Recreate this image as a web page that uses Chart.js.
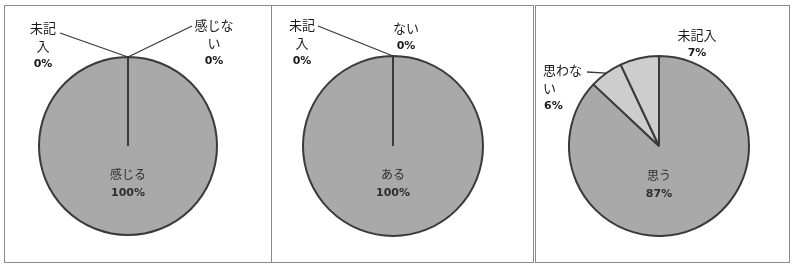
<!DOCTYPE html>
<html>
<head>
<meta charset="utf-8">
<script src="https://cdn.jsdelivr.net/npm/chart.js@4/dist/chart.umd.min.js"></script>
<style>
  body { margin: 0; background: #fff; }
  #wrap { position: relative; width: 792px; height: 267px; overflow: hidden; }
  .box { position: absolute; border: 1px solid #8a8a8a; box-sizing: border-box; }
  .box canvas { position: absolute; left: -1px; top: -1px; }
</style>
</head>
<body>
<div id="wrap"></div>
<script>
// data
const feelCategories = ['感じる', '感じない', '未記入'];
const feelValues = [100, 0, 0];

const haveCategories = ['ある', 'ない', '未記入'];
const haveValues = [100, 0, 0];

const thinkCategories = ['思う', '思わない', '未記入'];
const thinkValues = [87, 6, 7];

const darkGray = '#a9a9a9';
const lightGray = '#cdcdcd';
const edge = '#3a3a3a';

// layout: box = [left, top, width, height], pie = [cx, cy, r] in page px
// label offsets are relative to the pie centre
const panels = [
  {
    categories: feelCategories, values: feelValues,
    colors: [darkGray, lightGray, lightGray],
    box: [4, 5, 268, 258], pie: [128, 146, 89],
    labels: [
      { lines: ['感じる'], dx: 0, dy: 28, inside: true },
      { lines: ['感じな', 'い'], dx: 86, dy: -121, leader: [64, -120] },
      { lines: ['未記', '入'], dx: -85, dy: -118, leader: [-68, -113] }
    ]
  },
  {
    categories: haveCategories, values: haveValues,
    colors: [darkGray, lightGray, lightGray],
    box: [271, 5, 263, 258], pie: [393, 146, 90],
    labels: [
      { lines: ['ある'], dx: 0, dy: 28, inside: true },
      { lines: ['ない'], dx: 13, dy: -118 },
      { lines: ['未記', '入'], dx: -91, dy: -121, leader: [-75, -120] }
    ]
  },
  {
    categories: thinkCategories, values: thinkValues,
    colors: [darkGray, lightGray, lightGray],
    box: [535, 5, 255, 258], pie: [659, 146, 90],
    labels: [
      { lines: ['思う'], dx: 0, dy: 29, inside: true },
      { lines: ['思わな', 'い'], dx: -116, dy: -76, align: 'left', leader: [-72, -74] },
      { lines: ['未記入'], dx: 38, dy: -111 }
    ]
  }
];

const pieLabels = {
  id: 'pieLabels',
  afterDatasetsDraw(chart, args, opts) {
    const ctx = chart.ctx;
    const meta = chart.getDatasetMeta(0);
    const values = chart.data.datasets[0].data;
    const total = values.reduce((a, b) => a + b, 0);
    opts.specs.forEach((spec, i) => {
      const arc = meta.data[i].getProps(['x', 'y', 'startAngle', 'endAngle', 'outerRadius'], true);
      const cx = arc.x, cy = arc.y;
      ctx.save();
      if (spec.leader) {
        const mid = (arc.startAngle + arc.endAngle) / 2;
        ctx.strokeStyle = edge;
        ctx.lineWidth = 1.3;
        ctx.beginPath();
        ctx.moveTo(cx + spec.leader[0], cy + spec.leader[1]);
        ctx.lineTo(cx + Math.cos(mid) * arc.outerRadius, cy + Math.sin(mid) * arc.outerRadius);
        ctx.stroke();
      }
      const pct = Math.round(values[i] / total * 100) + '%';
      const lineH = spec.inside ? 19 : 18;
      let x = cx + spec.dx, y = cy + spec.dy;
      ctx.textAlign = spec.align || 'center';
      ctx.textBaseline = 'middle';
      ctx.fillStyle = spec.inside ? '#2e2e2e' : '#1a1a1a';
      ctx.font = (spec.inside ? '12px' : '13px') + ' "Noto Sans CJK JP"';
      spec.lines.forEach(line => {
        ctx.fillText(line, x, y);
        y += lineH;
      });
      ctx.font = 'bold 11px "DejaVu Sans"';
      ctx.fillText(pct, spec.align === 'left' ? x + 1 : x, y);
      ctx.restore();
    });
  }
};

const wrap = document.getElementById('wrap');
panels.forEach(p => {
  const [bl, bt, bw, bh] = p.box;
  const [cx, cy, r] = p.pie;
  const box = document.createElement('div');
  box.className = 'box';
  box.style.left = bl + 'px';
  box.style.top = bt + 'px';
  box.style.width = bw + 'px';
  box.style.height = bh + 'px';
  const canvas = document.createElement('canvas');
  canvas.width = bw;
  canvas.height = bh;
  canvas.style.width = bw + 'px';
  canvas.style.height = bh + 'px';
  box.appendChild(canvas);
  wrap.appendChild(box);

  new Chart(canvas.getContext('2d'), {
    type: 'pie',
    data: {
      labels: p.categories,
      datasets: [{
        data: p.values,
        backgroundColor: p.colors,
        borderColor: edge,
        borderWidth: 2
      }]
    },
    options: {
      responsive: false,
      animation: false,
      layout: {
        padding: {
          left: cx - r - bl - 1,
          top: cy - r - bt - 1,
          right: bl + bw - (cx + r) - 1,
          bottom: bt + bh - (cy + r) - 1
        }
      },
      plugins: {
        legend: { display: false },
        tooltip: { enabled: false },
        pieLabels: { specs: p.labels }
      }
    },
    plugins: [pieLabels]
  });
});
</script>
</body>
</html>
